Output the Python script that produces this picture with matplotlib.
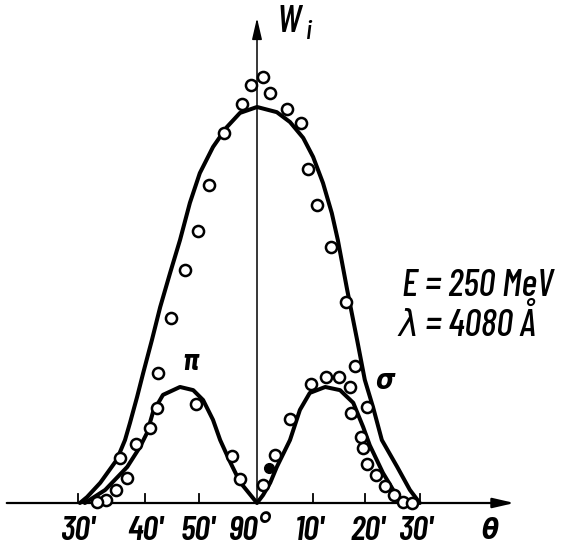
import matplotlib
matplotlib.use('Agg')
import matplotlib.pyplot as plt

plt.rcParams['font.family'] = ['Barlow Condensed', 'DejaVu Sans']

# angle in arcminutes from 90 deg, intensity in units of the outer curve maximum
outer_theta = [-32.2, -30.9, -28.5, -25.5, -24.0, -23.1, -21.8, -20.7, -19.1, -17.6,
               -15.8, -14.0, -12.2, -10.4, -8.0, -5.5, -3.1, 0.0, 3.6, 6.0, 8.4, 10.2,
               12.0, 13.6, 14.7, 16.4, 18.2, 19.6, 21.1, 22.7, 25.5, 27.8, 29.6]
outer_w = [0.0, 0.015, 0.051, 0.109, 0.159, 0.202, 0.268, 0.328, 0.412, 0.495,
           0.581, 0.664, 0.758, 0.833, 0.899, 0.949, 0.985, 1.0, 0.987, 0.962, 0.922, 0.874,
           0.808, 0.732, 0.664, 0.538, 0.412, 0.311, 0.242, 0.159, 0.091, 0.033, 0.0]

inner_theta = [-31.3, -27.6, -23.6, -21.3, -20.0, -18.9, -17.1, -14.0, -11.6, -9.8, -8.0,
               -6.7, -4.9, -3.1, 0.0,
               1.1, 2.4, 3.6, 6.0, 7.8, 9.6, 12.4, 15.1, 17.5, 19.3, 20.5, 22.9, 25.1, 26.9]
inner_w = [0.0, 0.033, 0.091, 0.141, 0.177, 0.230, 0.273, 0.293, 0.285, 0.260, 0.210,
           0.159, 0.104, 0.053, 0.0,
           0.020, 0.051, 0.091, 0.159, 0.235, 0.278, 0.293, 0.285, 0.253, 0.192, 0.146,
           0.076, 0.025, 0.0]

# measured points (open circles)
pts_theta = [1.09, -1.09, 2.36, -2.73, 5.45, 8.0, -6.0, 9.27, -8.73, 10.91,
             -10.73, 13.45, -13.09, 16.18, -15.64, 17.82, -18.0, 20.0,
             -11.09, -18.18, -19.45, -22.0, -24.91, -23.64, -25.64, -27.45, -29.09,
             -4.55, -3.09, 1.09, 3.27,
             6.0, 9.82, 12.55, 14.91, 16.91, 17.09, 18.91, 19.27, 20.0, 21.64,
             23.27, 24.91, 26.55, 28.18]
pts_w = [1.076, 1.056, 1.035, 1.008, 0.995, 0.960, 0.934, 0.843, 0.803, 0.753,
         0.687, 0.646, 0.588, 0.508, 0.467, 0.346, 0.328, 0.242,
         0.250, 0.240, 0.189, 0.149, 0.114, 0.063, 0.033, 0.008, 0.003,
         0.119, 0.061, 0.045, 0.121,
         0.212, 0.301, 0.318, 0.318, 0.293, 0.227, 0.167, 0.139, 0.098, 0.071,
         0.043, 0.020, 0.003, 0.0]

# the one filled point
dot_theta = [2.18]
dot_w = [0.088]

tick_pos = [-32.5, -20.4, -10.5, 10.2, 19.6, 29.6]
label_pos = [-32.5, -20.4, -10.7, -1.3, 9.6, 20.2, 28.9]
tick_labels = ["30'", "40'", "50'", "90°", "10'", "20'", "30'"]

fig = plt.figure(figsize=(5.69, 5.51), dpi=100)
ax = fig.add_axes([0, 0, 1, 1])
ax.set_xlim(-46.73, 56.73)
ax.set_ylim(-0.1212, 1.2702)
ax.axis('off')

# axes with arrows
ax.annotate('', xy=(46.8, 0), xytext=(-45.5, 0),
            arrowprops=dict(arrowstyle='-|>,head_length=1.3,head_width=0.3',
                            lw=1.6, color='black', shrinkA=0, shrinkB=0))
ax.annotate('', xy=(0, 1.225), xytext=(0, 0),
            arrowprops=dict(arrowstyle='-|>,head_length=1.3,head_width=0.3',
                            lw=1.1, color='black', shrinkA=0, shrinkB=0))
for t in tick_pos:
    ax.plot([t, t], [0, 0.022], color='black', lw=1.3)

ax.plot(outer_theta, outer_w, color='black', lw=2.9, solid_capstyle='round', solid_joinstyle='round')
ax.plot(inner_theta, inner_w, color='black', lw=2.9, solid_capstyle='round', solid_joinstyle='round')
ax.plot(pts_theta, pts_w, 'o', ms=8, mfc='white', mec='black', mew=1.8, zorder=5)
ax.plot(dot_theta, dot_w, 'o', ms=7, mfc='black', mec='black', zorder=5)

for x, s in zip(label_pos, tick_labels):
    ax.text(x, -0.071, s, ha='center', va='center', fontsize=25, style='italic', fontweight='semibold')
ax.text(42.4, -0.071, 'θ', ha='center', va='center', fontsize=20, style='italic',
        fontweight='bold', fontstretch='condensed')

ax.text(5.8, 1.215, 'W', ha='center', va='center', fontsize=28, style='italic', fontweight='medium')
ax.text(9.5, 1.19, 'i', ha='center', va='center', fontsize=20, style='italic', fontweight='medium')

ax.text(-12.2, 0.356, 'π', ha='center', va='center', fontsize=22, style='italic', fontweight='bold',
        fontstretch='condensed')
ax.text(23.3, 0.306, 'σ', ha='center', va='center', fontsize=20, style='italic', fontweight='bold',
        fontstretch='condensed')

ax.text(26.3, 0.548, 'E = 250 MeV', ha='left', va='center', fontsize=27, style='italic',
        fontweight='medium')
ax.text(25.8, 0.452, 'λ = 4080 Å', ha='left', va='center', fontsize=27, style='italic',
        fontweight='medium', fontstretch='condensed')

fig.savefig('out.png', dpi=100)
